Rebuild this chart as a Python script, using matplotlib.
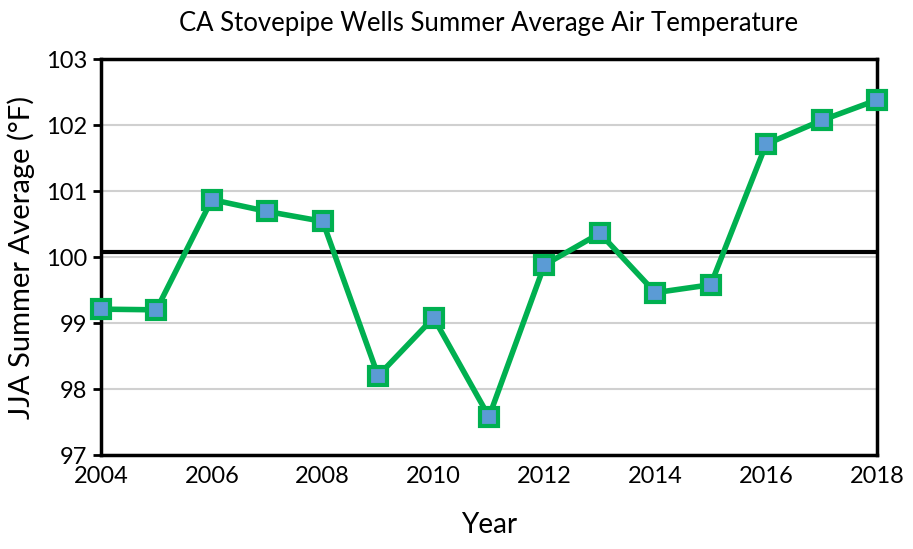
import matplotlib.pyplot as plt

years = [2004, 2005, 2006, 2007, 2008, 2009, 2010, 2011, 2012, 2013, 2014, 2015, 2016, 2017, 2018]
temps = [99.21, 99.20, 100.87, 100.69, 100.54, 98.20, 99.08, 97.58, 99.88, 100.36, 99.46, 99.58, 101.71, 102.07, 102.38]
avg_temp = 100.08
yticks = [97, 98, 99, 100, 101, 102, 103]
xticks = [2004, 2006, 2008, 2010, 2012, 2014, 2016, 2018]

plt.rcParams['font.family'] = ['Lato', 'DejaVu Sans']

fig = plt.figure(figsize=(9.13, 5.49), dpi=100)
ax = fig.add_axes([0.1106, 0.1712, 0.85, 0.7213])

ax.plot(years, temps, color='#00B050', lw=4, marker='s', markersize=13,
        markerfacecolor='#5B9BD5', markeredgecolor='#00B050', markeredgewidth=3,
        zorder=4, clip_on=False)
ax.axhline(avg_temp, color='black', lw=3, zorder=3)

ax.set_xlim(2004, 2018)
ax.set_ylim(97, 103)
ax.set_xticks(xticks)
ax.set_yticks(yticks)
ax.grid(axis='y', color='#D0D0D0', lw=1.5, zorder=1)
ax.set_axisbelow(True)

for s in ax.spines.values():
    s.set_linewidth(2.5)
    s.set_color('black')
ax.tick_params(axis='y', length=6, width=2, labelsize=17, pad=4)
ax.tick_params(axis='x', length=0, labelsize=17, pad=8)

ax.set_title('CA Stovepipe Wells Summer Average Air Temperature', fontsize=18.5, pad=20)
ax.set_xlabel('Year', fontsize=20, labelpad=18)
ax.set_ylabel('JJA Summer Average (°F)', fontsize=21, labelpad=8)

fig.savefig('out.png', dpi=100)
